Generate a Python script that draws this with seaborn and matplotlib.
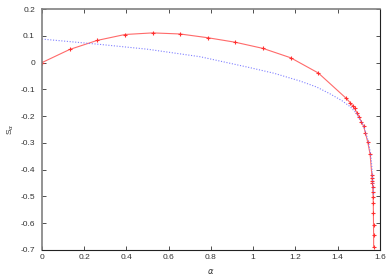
import numpy as np
import pandas as pd
import matplotlib
matplotlib.use("Agg")
import matplotlib.pyplot as plt
import seaborn as sns

# ── data ────────────────────────────────────────────────────
alpha_red = [0.0, 0.131, 0.262, 0.393, 0.524, 0.654, 0.785, 0.916, 1.047,
             1.178, 1.309, 1.440, 1.460, 1.472, 1.480, 1.491, 1.502, 1.512,
             1.523, 1.532, 1.543, 1.554, 1.562, 1.563, 1.564, 1.565, 1.566,
             1.567, 1.568, 1.569, 1.5695, 1.570, 1.5705, 1.5707]
s_red = [0.0, 0.049, 0.083, 0.105, 0.111, 0.107, 0.093, 0.076, 0.053,
         0.018, -0.039, -0.133, -0.150, -0.162, -0.171, -0.187, -0.202, -0.221,
         -0.237, -0.264, -0.298, -0.343, -0.420, -0.432, -0.441, -0.451, -0.463,
         -0.482, -0.501, -0.525, -0.563, -0.606, -0.644, -0.690]

alpha_blue = [0.0, 0.275, 0.5, 0.749, 0.986, 1.1, 1.223, 1.3, 1.365, 1.42,
              1.46, 1.49, 1.523, 1.546, 1.558, 1.565, 1.569, 1.5705]
s_blue = [0.088, 0.068, 0.050, 0.022, -0.019, -0.040, -0.069, -0.091, -0.117,
          -0.142, -0.165, -0.190, -0.235, -0.296, -0.350, -0.420, -0.470, -0.500]

x_ticks = [0, 0.2, 0.4, 0.6, 0.8, 1, 1.2, 1.4, 1.6]
x_labels = ["0", "0.2", "0.4", "0.6", "0.8", "1", "1.2", "1.4", "1.6"]
y_ticks = [0.2, 0.1, 0, -0.1, -0.2, -0.3, -0.4, -0.5, -0.6, -0.7]
y_labels = ["0.2", "0.1", "0", "-0.1", "-0.2", "-0.3", "-0.4", "-0.5", "-0.6", "-0.7"]

red = pd.DataFrame({"alpha": alpha_red, "S": s_red})
blue = pd.DataFrame({"alpha": alpha_blue, "S": s_blue})

# ── plot ────────────────────────────────────────────────────
sns.set_style("ticks")
plt.rcParams["font.family"] = ["Liberation Sans", "DejaVu Sans"]
plt.rcParams["font.size"] = 6

fig = plt.figure(figsize=(3.92, 2.75), dpi=100)
ax = fig.add_axes([0.107, 0.091, 0.862, 0.876])

sns.lineplot(data=red, x="alpha", y="S", sort=False, ax=ax,
             color="#ff6a6a", lw=0.8, marker="+", markersize=3.2,
             markeredgewidth=0.8, markeredgecolor="#ff3030")
sns.lineplot(data=blue, x="alpha", y="S", sort=False, ax=ax,
             color="#8080ff", lw=0.8, linestyle=(0, (1, 1.5)))

ax.set_xlim(0, 1.6)
ax.set_ylim(-0.7, 0.2)
ax.set_xticks(x_ticks, x_labels)
ax.set_yticks(y_ticks, y_labels)
ax.tick_params(direction="in", length=3, width=0.6, top=True, right=True,
               labelsize=6, colors="#333333")
ax.tick_params(axis="y", pad=5)
ax.tick_params(axis="x", pad=3)

for side in ["left", "top"]:
    ax.spines[side].set_color("#808080")
    ax.spines[side].set_linewidth(1.2)
for side in ["bottom", "right"]:
    ax.spines[side].set_color("#222222")
    ax.spines[side].set_linewidth(0.8)

ax.set_xlabel(r"$\alpha$", fontsize=6, color="#333333", labelpad=4)
ax.set_ylabel(r"S$_\alpha$", fontsize=6, color="#333333", labelpad=3)

fig.savefig("out.png", dpi=100)
plt.close(fig)
